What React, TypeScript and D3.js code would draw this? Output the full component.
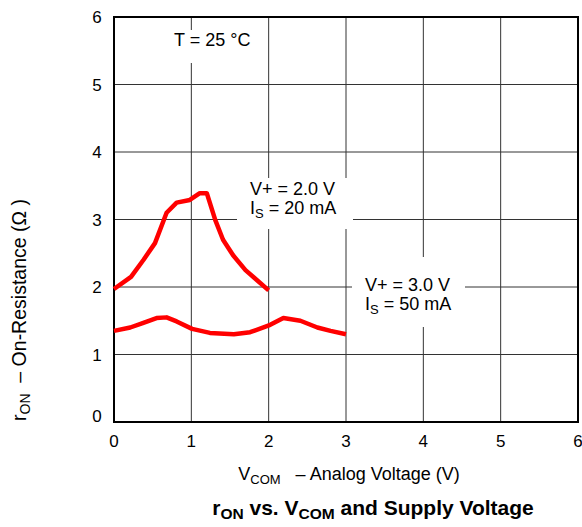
import React from "react";
import * as d3 from "d3";

const xTicks = [0, 1, 2, 3, 4, 5, 6];
const yTicks = [0, 1, 2, 3, 4, 5, 6];

// V+ = 2.0 V, IS = 20 mA
const v2X = [0, 0.22, 0.38, 0.53, 0.68, 0.81, 0.98, 1.11, 1.2, 1.31, 1.41, 1.54, 1.7, 1.85, 2.0];
const v2Y = [1.97, 2.15, 2.4, 2.65, 3.1, 3.25, 3.29, 3.39, 3.39, 2.99, 2.7, 2.47, 2.25, 2.1, 1.95];

// V+ = 3.0 V, IS = 50 mA
const v3X = [0, 0.21, 0.38, 0.55, 0.68, 0.81, 1.01, 1.24, 1.55, 1.76, 2.02, 2.19, 2.41, 2.63, 2.8, 3.0];
const v3Y = [1.35, 1.4, 1.47, 1.54, 1.55, 1.49, 1.38, 1.32, 1.3, 1.33, 1.44, 1.54, 1.5, 1.4, 1.35, 1.3];

const FONT = "'Liberation Sans', Arial, Helvetica, sans-serif";

export default function App() {
  const W = 582, H = 527;
  const x = d3.scaleLinear().domain([0, 6]).range([114, 578]);
  const y = d3.scaleLinear().domain([0, 6]).range([422, 17]);
  const line = d3
    .line<[number, number]>()
    .x((d) => x(d[0]))
    .y((d) => y(d[1]));
  const s2 = v2X.map((v, i) => [v, v2Y[i]] as [number, number]);
  const s3 = v3X.map((v, i) => [v, v3Y[i]] as [number, number]);

  return (
    <svg
      width={W}
      height={H}
      style={{ position: "absolute", left: 0, top: 0, background: "#fff" }}
      fontFamily={FONT}
    >
      <rect x={0} y={0} width={W} height={H} fill="#fff" />
      {/* grid */}
      {xTicks.slice(1, -1).map((t) => (
        <line key={"gx" + t} x1={x(t)} x2={x(t)} y1={y(6)} y2={y(0)} stroke="#333" strokeWidth={1} />
      ))}
      {yTicks.slice(1, -1).map((t) => (
        <line key={"gy" + t} x1={x(0)} x2={x(6)} y1={y(t)} y2={y(t)} stroke="#333" strokeWidth={1} />
      ))}
      {/* label boxes hiding grid */}
      <rect x={162} y={30} width={94} height={33} fill="#fff" />
      <rect x={237} y={178} width={116} height={51} fill="#fff" />
      <rect x={352} y={257} width={113} height={70} fill="#fff" />
      {/* frame */}
      <rect x={x(0)} y={y(6)} width={x(6) - x(0)} height={y(0) - y(6)} fill="none" stroke="#000" strokeWidth={2} />
      {/* curves */}
      <path d={line(s2) || ""} fill="none" stroke="#ff0000" strokeWidth={4.5} strokeLinejoin="round" strokeLinecap="butt" />
      <path d={line(s3) || ""} fill="none" stroke="#ff0000" strokeWidth={4.5} strokeLinejoin="round" strokeLinecap="butt" />
      {/* tick labels */}
      {yTicks.map((t) => (
        <text key={"yl" + t} x={97} y={y(t) + (t === 0 ? 0 : 6)} textAnchor="middle" fontSize={17} fill="#000">
          {t}
        </text>
      ))}
      {xTicks.map((t) => (
        <text key={"xl" + t} x={x(t)} y={447} textAnchor="middle" fontSize={17} fill="#000">
          {t}
        </text>
      ))}
      {/* annotations */}
      <text x={174} y={46} fontSize={18} fill="#000">T = 25 °C</text>
      <text x={250} y={195} fontSize={18} fill="#000">V+ = 2.0 V</text>
      <text x={250} y={214} fontSize={18} fill="#000">
        I<tspan fontSize={13} dy={4}>S</tspan>
        <tspan dy={-4}> = 20 mA</tspan>
      </text>
      <text x={365} y={291} fontSize={18} fill="#000">V+ = 3.0 V</text>
      <text x={365} y={310} fontSize={18} fill="#000">
        I<tspan fontSize={13} dy={4}>S</tspan>
        <tspan dy={-4}> = 50 mA</tspan>
      </text>
      {/* axis titles */}
      <text x={349} y={480} textAnchor="middle" fontSize={18} fill="#000" style={{ whiteSpace: "pre" }}>
        V<tspan fontSize={13} dy={4}>COM</tspan>
        <tspan dy={-4}>{"   – Analog Voltage (V)"}</tspan>
      </text>
      <text transform="translate(26,310) rotate(-90)" textAnchor="middle" fontSize={19.5} fill="#000" style={{ whiteSpace: "pre" }}>
        r<tspan fontSize={14} dy={4}>ON</tspan>
        <tspan dy={-4}>{"  – On-Resistance (Ω )"}</tspan>
      </text>
      <text x={373} y={515} textAnchor="middle" fontSize={21} fontWeight="bold" fill="#000">
        r<tspan fontSize={15.5} dy={4}>ON</tspan>
        <tspan dy={-4}> vs. V</tspan>
        <tspan fontSize={15.5} dy={4}>COM</tspan>
        <tspan dy={-4}> and Supply Voltage</tspan>
      </text>
    </svg>
  );
}
